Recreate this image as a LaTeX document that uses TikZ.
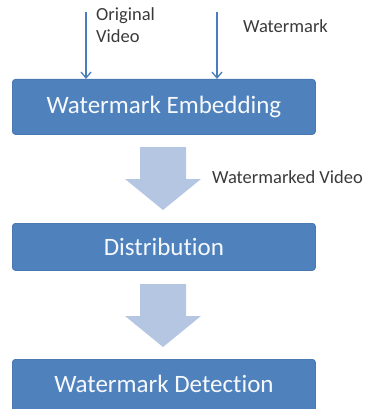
\documentclass[tikz,border=0pt]{standalone}
\usepackage{fontspec}
\setmainfont[Ligatures=NoCommon]{Carlito}
\usetikzlibrary{arrows.meta}
\definecolor{boxblue}{HTML}{4F81BD}
\definecolor{boxedge}{HTML}{4A78B0}
\definecolor{lightarrow}{HTML}{B4C6E2}
\definecolor{linearrow}{HTML}{4A7EBB}
\definecolor{textgray}{HTML}{3A3A3A}
\tikzset{
  stagebox/.style={draw=boxedge, line width=0.8pt, fill=boxblue, rounded corners=3pt,
    minimum width=303pt, inner sep=0pt, text=white!95!boxblue,
    font=\fontsize{25}{28}\selectfont, anchor=north west},
  label/.style={text=textgray, font=\fontsize{18.5}{22}\selectfont, inner sep=0pt, align=left},
  thinarrow/.style={draw=linearrow, line width=1.3pt, -{Straight Barb[length=6pt,width=10pt]}},
  blockarrow/.style={fill=lightarrow, draw=none}
}
\begin{document}
\begin{tikzpicture}[x=1pt,y=-1pt]
\useasboundingbox (0,0) rectangle (366,409);
\node[stagebox, text height=34pt, text depth=21pt] (embed) at (12,79) {Watermark Embedding};
\node[stagebox, text height=32pt, text depth=15pt] (dist) at (12,223) {Distribution};
\node[stagebox, text height=33pt, text depth=19pt] (detect) at (12,359) {Watermark Detection};
\coordinate (s1) at (86,12);
\coordinate (s2) at (217,12);
\draw[thinarrow] (s1) -- (embed.north west -| s1);
\draw[thinarrow] (s2) -- (embed.north west -| s2);
\node[label, anchor=base west] (orig) at (96,21) {Original};
\node[label, anchor=base west] (vid) at (96,43) {Video};
\node[label, anchor=base west] (wm) at (243,33) {Watermark};
\node[label, anchor=base west] (wmv) at (212,183) {Watermarked Video};
\path[blockarrow] (140,147) -- (186,147) -- (186,179) -- (201,179) -- (163,210) -- (125,179) -- (140,179) -- cycle;
\path[blockarrow] (140,284) -- (186,284) -- (186,316) -- (201,316) -- (163,347) -- (125,316) -- (140,316) -- cycle;
\end{tikzpicture}
\end{document}
